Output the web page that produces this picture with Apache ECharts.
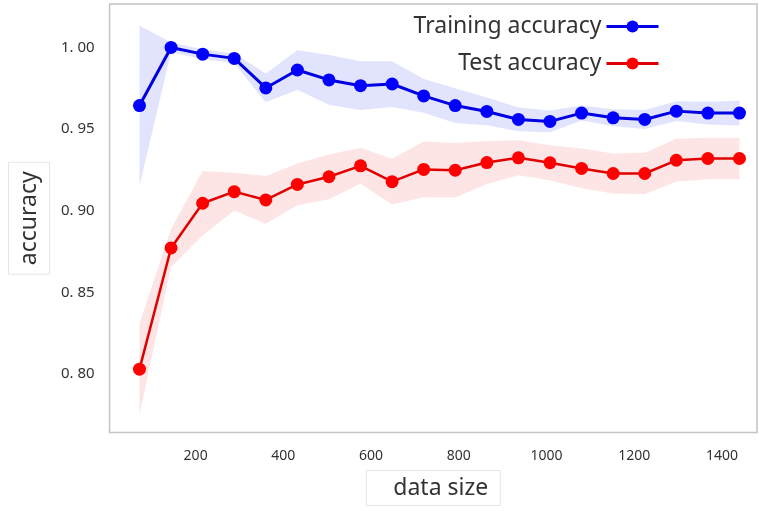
<!DOCTYPE html>
<html>
<head>
<meta charset="utf-8">
<script src="https://cdn.jsdelivr.net/npm/echarts@6/dist/echarts.min.js"></script>
<style>html,body{margin:0;padding:0;background:#fff}#c{width:759px;height:511px}</style>
</head>
<body>
<div id="c"></div>
<script>
var dataSizes = [72,144,216,288,360,432,504,576,648,720,792,864,936,1008,1080,1152,1224,1296,1368,1440];
var trainMean = [0.9644,1.0000,0.9959,0.9933,0.9752,0.9862,0.9801,0.9766,0.9776,0.9703,0.9644,0.9608,0.9559,0.9547,0.9598,0.9569,0.9559,0.9610,0.9598,0.9598];
var trainStd  = [0.0491,0.0030,0.0030,0.0030,0.0088,0.0121,0.0152,0.0149,0.0140,0.0103,0.0106,0.0085,0.0073,0.0067,0.0046,0.0052,0.0058,0.0061,0.0070,0.0076];
var testMean  = [0.8030,0.8772,0.9046,0.9117,0.9066,0.9161,0.9208,0.9275,0.9178,0.9253,0.9248,0.9295,0.9324,0.9294,0.9259,0.9228,0.9228,0.9309,0.9320,0.9320];
var testStd   = [0.0280,0.0116,0.0198,0.0116,0.0146,0.0128,0.0137,0.0110,0.0140,0.0171,0.0167,0.0132,0.0107,0.0107,0.0122,0.0122,0.0127,0.0132,0.0127,0.0127];
var xTicks = [200,400,600,800,1000,1200,1400];
var yTicks = [0.80,0.85,0.90,0.95,1.00];

function pairs(a){ return dataSizes.map(function(x,i){ return [x, a[i]]; }); }

var font = 'Noto Sans';
var chart = echarts.init(document.getElementById('c'), null, {renderer:'canvas'});

function bandSeries(m, s, color){
  return {
    type:'custom', silent:true, z:1, animation:false,
    data:[[dataSizes[0], m[0]]],
    encode:{x:0, y:1},
    clip:true,
    renderItem:function(params, api){
      var pts = [], i;
      for (i = 0; i < dataSizes.length; i++) pts.push(api.coord([dataSizes[i], m[i] + s[i]]));
      for (i = dataSizes.length - 1; i >= 0; i--) pts.push(api.coord([dataSizes[i], m[i] - s[i]]));
      return {type:'polygon', shape:{points:pts}, style:{fill:color, stroke:null}};
    }
  };
}
var series = [
  bandSeries(trainMean, trainStd, 'rgba(20,30,240,0.12)'),
  bandSeries(testMean, testStd, 'rgba(240,40,40,0.12)'),
  {name:'Training accuracy', type:'line', data: pairs(trainMean), symbol:'circle', symbolSize:13,
   itemStyle:{color:'#0000ff'}, lineStyle:{color:'#0000e0', width:3}, z:5, animation:false},
  {name:'Test accuracy', type:'line', data: pairs(testMean), symbol:'circle', symbolSize:13,
   itemStyle:{color:'#ff0000'}, lineStyle:{color:'#e00000', width:2.5}, z:5, animation:false}
];
var legendCommon = {
  orient:'vertical', align:'right', right:99, padding:0, itemWidth:52, itemHeight:15,
  textStyle:{fontFamily:font, fontSize:23, color:'#333'},
  lineStyle:{width:3}, selectedMode:false
};
chart.setOption({
  animation:false,
  backgroundColor:'#fff',
  grid:{left:108, top:4, right:2, bottom:76, show:true, borderColor:'#c4c4c4', borderWidth:1.5},
  legend:[
    Object.assign({}, legendCommon, {data:['Training accuracy'], top:15}),
    Object.assign({}, legendCommon, {data:['Test accuracy'], top:52})
  ],
  xAxis:{type:'value', min:3.76, max:1480,
    axisLine:{show:false}, axisTick:{show:false}, splitLine:{show:false},
    axisLabel:{customValues:xTicks, margin:17, fontFamily:font, fontSize:14, color:'#333',
      formatter:function(v){ return String(v); }},
    name:'data size', nameLocation:'middle', nameGap:38,
    nameTextStyle:{fontFamily:font, fontSize:23, color:'#333', padding:[6,12,6,27], borderColor:'#e6e6e6', borderWidth:1}
  },
  yAxis:{type:'value', min:0.7642, max:1.0266,
    axisLine:{show:false}, axisTick:{show:false}, splitLine:{show:false},
    axisLabel:{customValues:yTicks, margin:15, fontFamily:font, fontSize:15, color:'#333',
      formatter:function(v){ return v.toFixed(2).replace('.', '. '); }},
    name:'accuracy', nameLocation:'middle', nameGap:50, nameRotate:90,
    nameTextStyle:{fontFamily:font, fontSize:23, color:'#333', padding:[9,9,9,9], borderColor:'#e6e6e6', borderWidth:1}
  },
  series: series
});
</script>
</body>
</html>
